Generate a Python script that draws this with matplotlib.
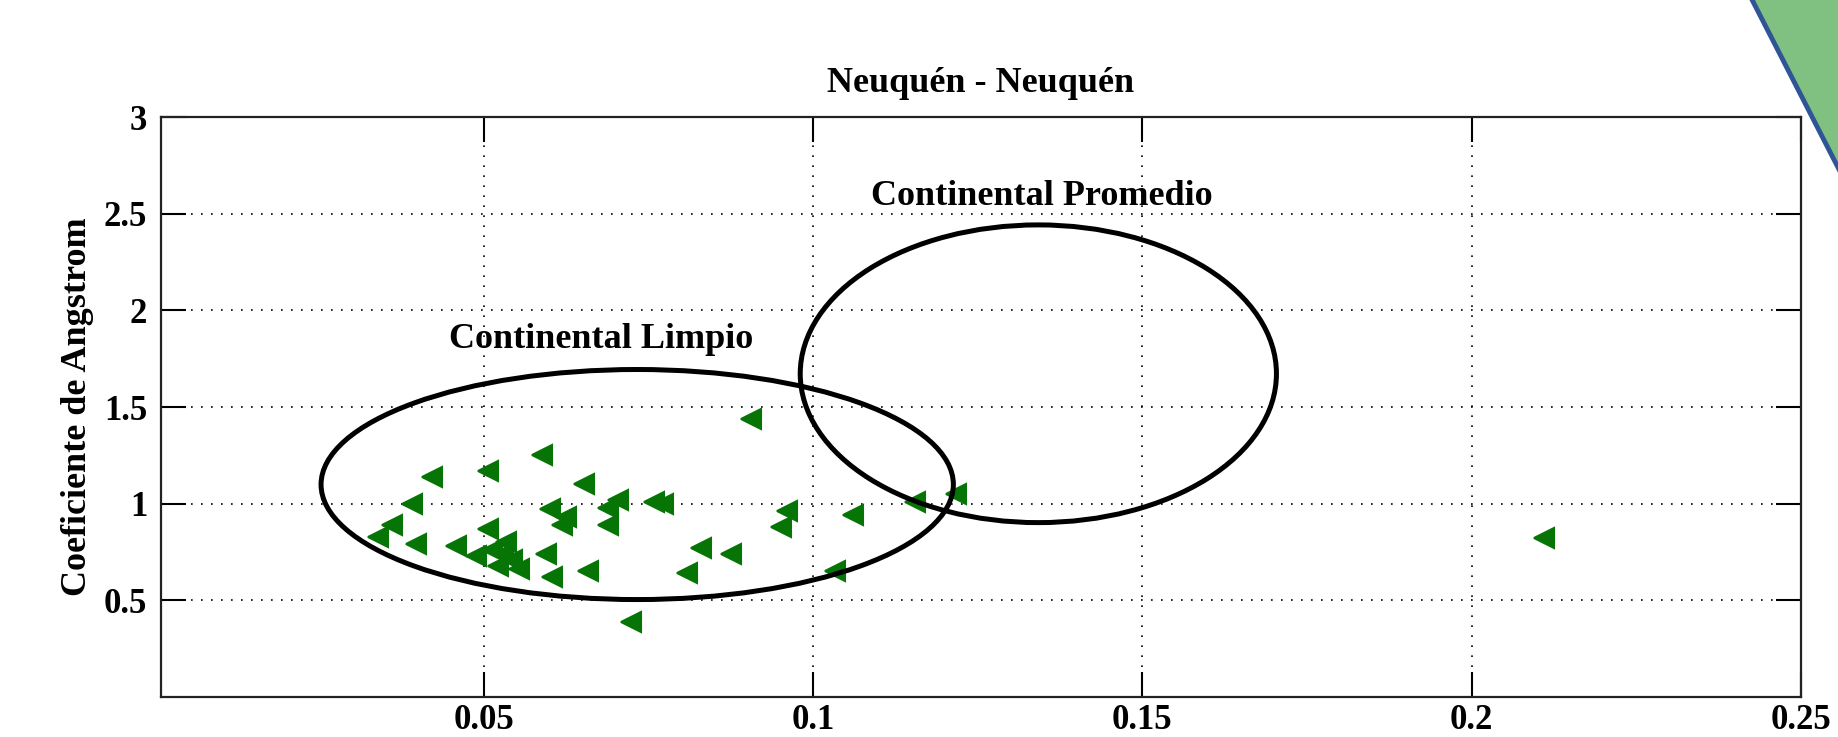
import matplotlib
matplotlib.use("Agg")
import matplotlib.pyplot as plt
from matplotlib.patches import Ellipse, Polygon
from matplotlib.lines import Line2D

# espesor optico (x) vs coeficiente de Angstrom (y)
aod = [0.0906, 0.0589, 0.0507, 0.0422, 0.0652, 0.0391, 0.0704, 0.0689,
       0.0759, 0.0772, 0.0601, 0.0619, 0.0625, 0.0689, 0.0361, 0.0339,
       0.0397, 0.0458, 0.0507, 0.0488, 0.0512, 0.0529, 0.0534, 0.0543,
       0.0521, 0.0554, 0.0595, 0.0604, 0.0659, 0.0830, 0.0875, 0.0809,
       0.0723, 0.0960, 0.0951, 0.1061, 0.1033, 0.1154, 0.1217, 0.2110]
alpha = [1.44, 1.25, 1.17, 1.14, 1.10, 1.00, 1.02, 0.98,
         1.01, 1.00, 0.97, 0.89, 0.93, 0.89, 0.89, 0.83,
         0.79, 0.78, 0.87, 0.73, 0.76, 0.74, 0.80, 0.71,
         0.68, 0.66, 0.74, 0.62, 0.65, 0.77, 0.74, 0.64,
         0.39, 0.96, 0.88, 0.94, 0.65, 1.01, 1.05, 0.82]

xticks = [0.05, 0.1, 0.15, 0.2, 0.25]
xlabels = ["0.05", "0.1", "0.15", "0.2", "0.25"]
yticks = [0.5, 1, 1.5, 2, 2.5, 3]
ylabels = ["0.5", "1", "1.5", "2", "2.5", "3"]

# regiones de aerosol: (centro x, centro y, ancho, alto)
limpio = (0.0733, 1.099, 0.0960, 1.19)
promedio = (0.1342, 1.672, 0.0723, 1.54)

plt.rcParams['font.family'] = ['Liberation Serif', 'DejaVu Serif']
plt.rcParams['font.weight'] = 'bold'

fig = plt.figure(figsize=(18.38, 7.37), dpi=100)
ax = fig.add_axes([0.0876, 0.0543, 0.8923, 0.7869])

ax.plot(aod, alpha, linestyle='none', marker='<', ms=15, color='#067506',
        mec='#067506', mew=1.5, zorder=3)

for cx, cy, w, h in [limpio, promedio]:
    ax.add_patch(Ellipse((cx, cy), w, h, fill=False, edgecolor='black',
                         lw=3.6, zorder=4))

ax.text(0.0447, 1.85, "Continental Limpio", fontsize=26, fontweight='bold',
        va='center', ha='left', zorder=5)
ax.text(0.1088, 2.59, "Continental Promedio", fontsize=26, fontweight='bold',
        va='center', ha='left', zorder=5)

ax.set_xlim(0.001, 0.25)
ax.set_ylim(0, 3)
ax.set_xticks(xticks)
ax.set_xticklabels(xlabels)
ax.set_yticks(yticks)
ax.set_yticklabels(ylabels)
ax.tick_params(direction='in', length=18, width=1.5, labelsize=25,
               top=True, right=True, pad=10)
ax.tick_params(axis='x', pad=5)
ax.grid(True, linestyle=(0, (1, 5)), color='black', linewidth=1.2)
for s in ax.spines.values():
    s.set_linewidth(1.6)
    s.set_color('#222222')

ax.set_title("Neuquén - Neuquén", fontsize=26, fontweight='bold', pad=18)
ax.set_ylabel("Coeficiente de Angstrom", fontsize=26, fontweight='bold',
              labelpad=7)

# triangulo decorativo en la esquina
fig.patches.append(Polygon([(0.9538, 1.0), (1.0, 0.769), (1.0, 1.0)],
                           closed=True, transform=fig.transFigure,
                           facecolor='#80c080', edgecolor='none'))
fig.lines.append(Line2D([0.9530, 1.0015], [1.0015, 0.7655],
                        transform=fig.transFigure, color='#2f5597', lw=3.5))

fig.savefig("out.png", dpi=100)
